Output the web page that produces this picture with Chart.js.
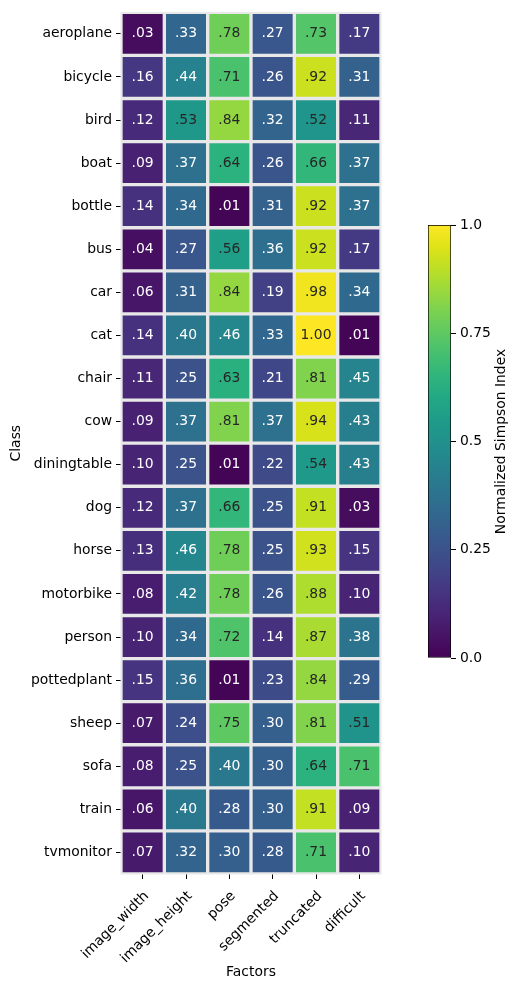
<!DOCTYPE html>
<html>
<head>
<meta charset="utf-8">
<script src="https://cdn.jsdelivr.net/npm/chart.js@4.4.1/dist/chart.umd.min.js"></script>
<style>
  html, body { margin: 0; padding: 0; background: #fff; }
  #wrap { position: relative; width: 519px; height: 990px; }
  #heat { position: absolute; left: 0; top: 0; }
  #cbar { position: absolute; left: 400px; top: 200px; }
</style>
</head>
<body>
<div id="wrap">
  <canvas id="heat" width="519" height="990"></canvas>
  <canvas id="cbar" width="119" height="480"></canvas>
</div>
<script>
// data //
const classes = ['aeroplane', 'bicycle', 'bird', 'boat', 'bottle', 'bus', 'car', 'cat', 'chair', 'cow',
    'diningtable', 'dog', 'horse', 'motorbike', 'person', 'pottedplant', 'sheep', 'sofa', 'train', 'tvmonitor'];
const factors = ['image_width', 'image_height', 'pose', 'segmented', 'truncated', 'difficult'];

const imageWidth  = [.03, .16, .12, .09, .14, .04, .06, .14, .11, .09, .10, .12, .13, .08, .10, .15, .07, .08, .06, .07];
const imageHeight = [.33, .44, .53, .37, .34, .27, .31, .40, .25, .37, .25, .37, .46, .42, .34, .36, .24, .25, .40, .32];
const pose        = [.78, .71, .84, .64, .01, .56, .84, .46, .63, .81, .01, .66, .78, .78, .72, .01, .75, .40, .28, .30];
const segmented   = [.27, .26, .32, .26, .31, .36, .19, .33, .21, .37, .22, .25, .25, .26, .14, .23, .30, .30, .30, .28];
const truncated   = [.73, .92, .52, .66, .92, .92, .98, 1.00, .81, .94, .54, .91, .93, .88, .87, .84, .81, .64, .91, .71];
const difficult   = [.17, .31, .11, .37, .37, .17, .34, .01, .45, .43, .43, .03, .15, .10, .38, .29, .51, .71, .09, .10];

const columns = [imageWidth, imageHeight, pose, segmented, truncated, difficult];
const cbarTicks = [0, 0.25, 0.5, 0.75, 1];
const cbarTickLabels = ['0.0', '0.25', '0.5', '0.75', '1.0'];

// viridis //
const viridisStops = ['#440154', '#471365', '#482475', '#463480', '#414487', '#3b528b', '#355f8d',
    '#2f6c8e', '#2a788e', '#25848e', '#21918c', '#1e9c89', '#22a884', '#2fb47c', '#44bf70',
    '#5ec962', '#7ad151', '#9bd93c', '#bddf26', '#dfe318', '#fde725'];

function hexRgb(h) {
    return [parseInt(h.slice(1, 3), 16), parseInt(h.slice(3, 5), 16), parseInt(h.slice(5, 7), 16)];
}

function viridis(v) {
    v = Math.max(0, Math.min(1, v));
    const p = v * (viridisStops.length - 1);
    const i = Math.min(Math.floor(p), viridisStops.length - 2);
    const t = p - i;
    const a = hexRgb(viridisStops[i]), b = hexRgb(viridisStops[i + 1]);
    const c = a.map((x, k) => Math.round(x + (b[k] - x) * t));
    return 'rgb(' + c.join(',') + ')';
}

function fmt(v) {
    return v.toFixed(2).replace(/^0/, '');
}

const FONT = "'DejaVu Sans', sans-serif";
const GAP = '#e8e8e8';

// gray frame behind cells //
const framePlugin = {
    id: 'frame',
    beforeDatasetsDraw(chart) {
        const a = chart.chartArea, c = chart.ctx;
        c.save();
        c.fillStyle = GAP;
        c.fillRect(a.left - 0.5, a.top - 0.5, a.right - a.left + 1, a.bottom - a.top + 1);
        c.restore();
    }
};

// cell annotations //
const annotPlugin = {
    id: 'annot',
    afterDatasetsDraw(chart) {
        const c = chart.ctx;
        c.save();
        c.font = '13.9px ' + FONT;
        c.textAlign = 'center';
        c.textBaseline = 'middle';
        chart.data.datasets.forEach((ds, di) => {
            chart.getDatasetMeta(di).data.forEach((el, i) => {
                const v = columns[di][i];
                const p = el.getCenterPoint();
                c.fillStyle = v >= 0.5 ? '#262626' : '#ffffff';
                c.fillText(fmt(v), p.x, p.y);
            });
        });
        c.restore();
    }
};

// Heatmap //
new Chart(document.getElementById('heat'), {
    type: 'bar',
    data: {
        labels: classes,
        datasets: columns.map((col, j) => ({
            label: factors[j],
            data: col.map(() => [j, j + 1]),
            backgroundColor: ctx => viridis(col[ctx.dataIndex]),
            borderColor: GAP,
            borderWidth: 2,
            borderSkipped: false,
            categoryPercentage: 1,
            barPercentage: 1
        }))
    },
    options: {
        indexAxis: 'y',
        responsive: false,
        animation: false,
        devicePixelRatio: 1,
        layout: { padding: { top: 10, right: 138, left: 0, bottom: 0 } },
        plugins: { legend: { display: false }, tooltip: { enabled: false } },
        scales: {
            y: {
                stacked: true,
                afterFit(s) { s.width = 121; },
                border: { display: false },
                grid: { drawOnChartArea: false, offset: false, tickLength: 5, color: '#000', tickColor: '#000' },
                ticks: { color: '#000', padding: 4, font: { family: FONT, size: 13.9 } },
                title: { display: true, text: 'Class', color: '#000', padding: { top: 8 }, font: { family: FONT, size: 13.9 } }
            },
            x: {
                stacked: false,
                min: 0,
                max: 6,
                afterFit(s) { s.height = 116; },
                afterBuildTicks(s) { s.ticks = factors.map((f, i) => ({ value: i + 0.5 })); },
                border: { display: false },
                grid: { drawOnChartArea: false, tickLength: 5, color: '#000', tickColor: '#000' },
                ticks: {
                    color: '#000',
                    autoSkip: false,
                    minRotation: 45,
                    maxRotation: 45,
                    padding: 9,
                    labelOffset: 4,
                    font: { family: FONT, size: 13.9 },
                    callback: (v, i) => factors[i]
                },
                title: { display: true, text: 'Factors', color: '#000', padding: { bottom: 9 }, font: { family: FONT, size: 13.9 } }
            }
        }
    },
    plugins: [framePlugin, annotPlugin]
});

// Colorbar //
const cbarTitle = {
    id: 'cbarTitle',
    afterDraw(chart) {
        const c = chart.ctx, a = chart.chartArea;
        c.save();
        c.translate(101, (a.top + a.bottom) / 2);
        c.rotate(-Math.PI / 2);
        c.font = '13.9px ' + FONT;
        c.fillStyle = '#000';
        c.textAlign = 'center';
        c.textBaseline = 'middle';
        c.fillText('Normalized Simpson Index', 0, 0);
        c.restore();
    }
};

new Chart(document.getElementById('cbar'), {
    type: 'bar',
    data: {
        labels: [''],
        datasets: [{
            data: [[0, 1]],
            backgroundColor: ctx => {
                const a = ctx.chart.chartArea;
                if (!a) return viridis(0.5);
                const g = ctx.chart.ctx.createLinearGradient(0, a.bottom, 0, a.top);
                viridisStops.forEach((s, i) => g.addColorStop(i / (viridisStops.length - 1), s));
                return g;
            },
            borderColor: '#000',
            borderWidth: 1,
            borderSkipped: false,
            categoryPercentage: 1,
            barPercentage: 1
        }]
    },
    options: {
        responsive: false,
        animation: false,
        devicePixelRatio: 1,
        layout: { padding: { left: 28, top: 25, bottom: 22, right: 0 } },
        plugins: { legend: { display: false }, tooltip: { enabled: false } },
        scales: {
            x: { display: false },
            y: {
                position: 'right',
                min: 0,
                max: 1,
                afterFit(s) { s.width = 68; },
                afterBuildTicks(s) { s.ticks = cbarTicks.map(v => ({ value: v })); },
                border: { display: false },
                grid: { drawOnChartArea: false, tickLength: 5, color: '#000', tickColor: '#000' },
                ticks: {
                    color: '#000',
                    padding: 4,
                    font: { family: FONT, size: 13.9 },
                    callback: (v, i) => cbarTickLabels[i]
                }
            }
        }
    },
    plugins: [cbarTitle]
});
</script>
</body>
</html>
